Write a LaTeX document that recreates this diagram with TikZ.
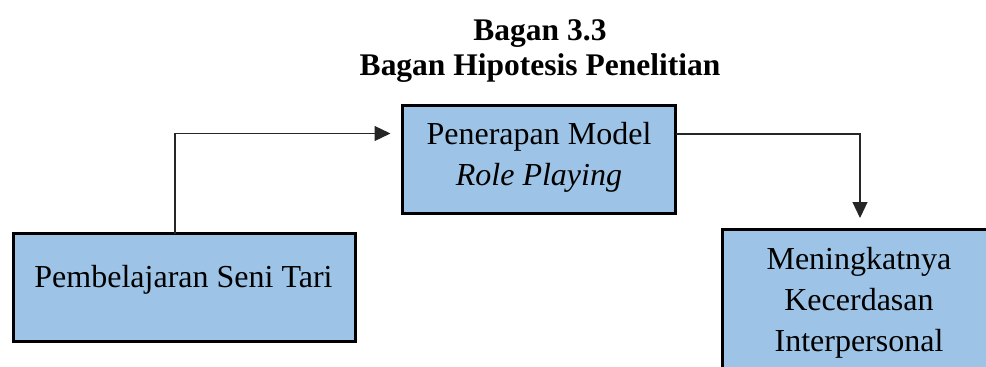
\documentclass[tikz,border=0pt]{standalone}
\usepackage{fontspec}
\setmainfont{Liberation Serif}
\usetikzlibrary{arrows.meta}
\definecolor{boxblue}{HTML}{9DC3E6}
\begin{document}
\begin{tikzpicture}[x=1pt,y=1pt,
  box/.style={draw=black, line width=2.6pt, fill=boxblue, rectangle,
    inner sep=0pt, outer sep=0pt},
  boxtext/.style={font=\fontsize{32}{41}\selectfont, align=center,
    anchor=base, inner sep=0pt},
  flow/.style={draw=black!85, line width=1.2pt,
    -{Triangle[length=16pt,width=15pt]}},
]
\useasboundingbox (0,0) rectangle (986,-367);
\clip (0,0) rectangle (986,-367);

% title (base anchor = baseline of the last line)
\node[font=\fontsize{31.5}{35}\selectfont\bfseries, align=center,
  anchor=base, inner sep=0pt] (title) at (540,-75.7)
  {Bagan 3.3\\Bagan Hipotesis Penelitian};

% boxes
\node[box, minimum width=342pt, minimum height=108pt] (left) at (184.5,-287.5) {};
\node[box, minimum width=273pt, minimum height=108pt] (mid) at (539,-159.5) {};
\node[box, minimum width=277.5pt, minimum height=150.5pt] (right) at (861.25,-304.75) {};

% box texts
\node[boxtext] (lefttext) at (183.5,-287) {Pembelajaran Seni Tari};
\node[boxtext] (midtext) at (539,-185) {Penerapan Model\\\textit{Role Playing}};
\node[boxtext] (righttext) at (859,-351) {Meningkatnya\\Kecerdasan\\Interpersonal};

% connectors
\coordinate (midin) at ([xshift=-12pt, yshift=26pt]mid.west);
\coordinate (rightin) at ([xshift=-1.25pt, yshift=11.5pt]right.north);
\draw[flow] ([xshift=-9.5pt]left.north) |- (midin);
\draw[flow] ([yshift=25.5pt]mid.east) -| (rightin);
\end{tikzpicture}
\end{document}
